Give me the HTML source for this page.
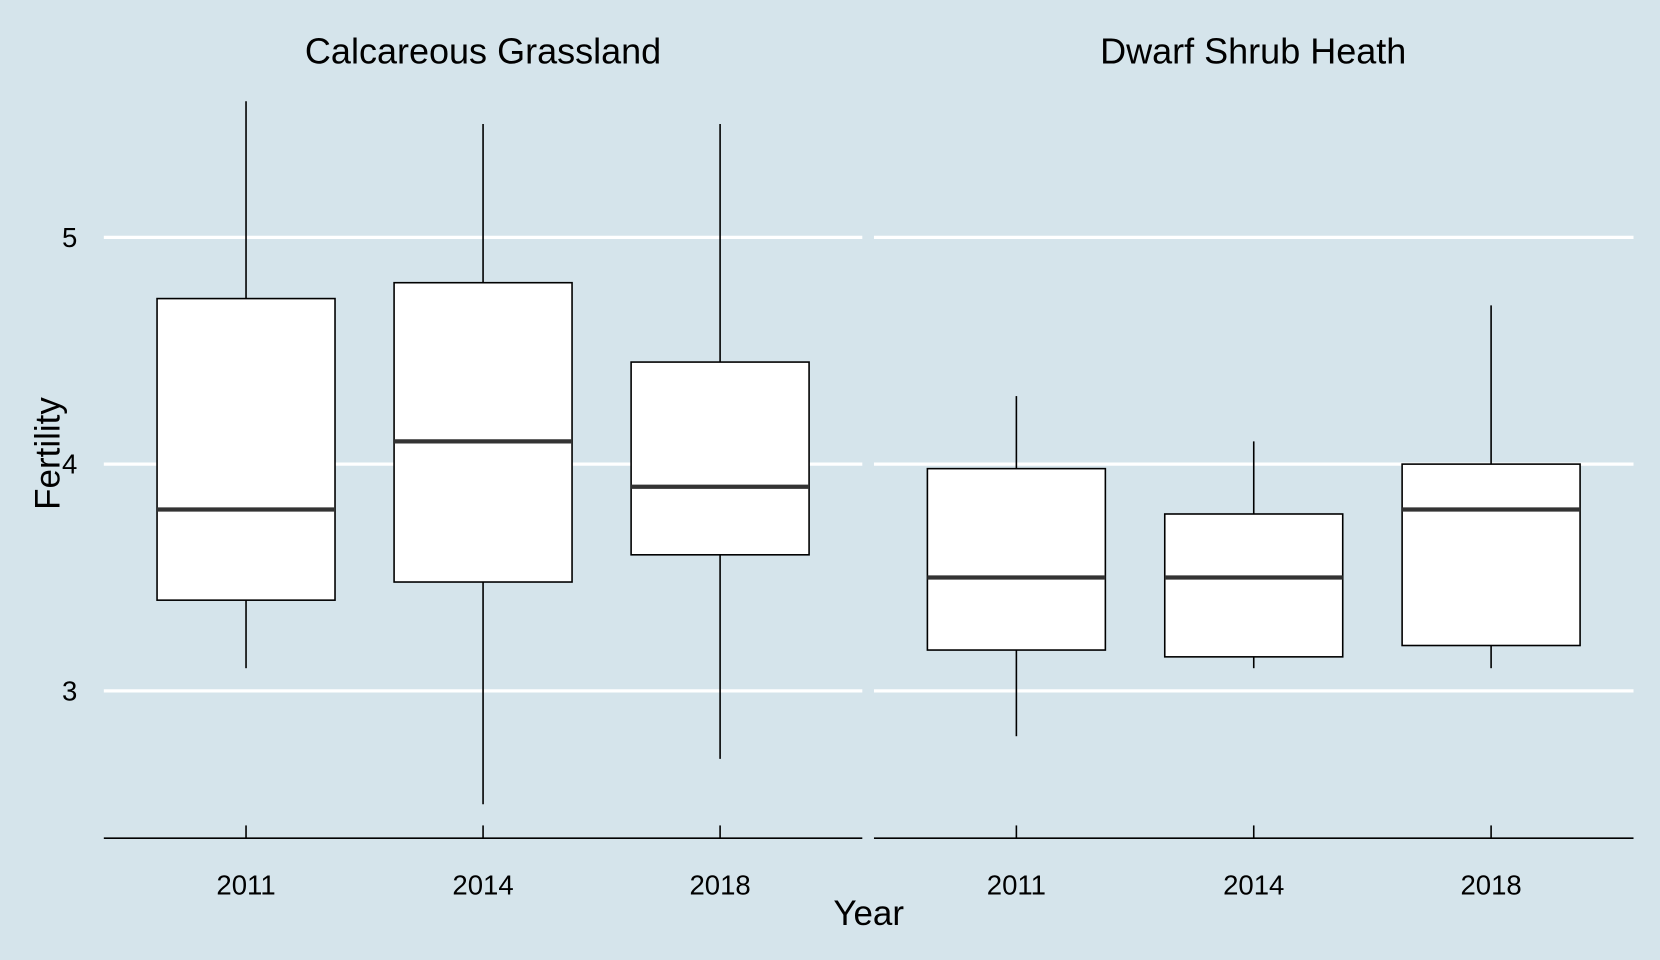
<!DOCTYPE html>
<html><head><meta charset="utf-8"><style>
html,body{margin:0;padding:0;background:#d5e4eb;}
svg{display:block;font-family:"Liberation Sans",Arial,sans-serif;}
</style></head><body>
<svg id="chart" width="1660" height="960" viewBox="0 0 1567 906" preserveAspectRatio="none">
<rect x="0" y="0" width="1567" height="906" fill="#d5e4eb"/>
<g id="plot"></g>
</svg>
<script>
const panels = ["Calcareous Grassland","Dwarf Shrub Heath"];
const years = ["2011","2014","2018"];
const yTicks = [3,4,5];
const lowW = [[3.1,2.5,2.7],[2.8,3.1,3.1]];
const q1 = [[3.4,3.48,3.6],[3.18,3.15,3.2]];
const med = [[3.8,4.1,3.9],[3.5,3.5,3.8]];
const q3 = [[4.73,4.8,4.45],[3.98,3.78,4.0]];
const highW = [[5.6,5.5,5.5],[4.3,4.1,4.7]];

const NS="http://www.w3.org/2000/svg";
const g=document.getElementById('plot');
function mk(t,a,p){const e=document.createElementNS(NS,t);for(const k in a)e.setAttribute(k,a[k]);(p||g).appendChild(e);return e;}
const y=v=>224+(5-v)*214;
const panelX=[[98,814],[825,1542]];
const xPos=(p,i)=>{const [a,b]=panelX[p];const step=(b-a)/3.2;return a+step*(0.6+i);};
const bw=168;
const titleX=[456,1183];

panels.forEach((name,p)=>{
  const [a,b]=panelX[p];
  const pg=mk('g',{});
  
  
  yTicks.forEach(t=>{
    const l=mk('line',{x1:a,x2:b,y1:y(t),y2:y(t),stroke:'#fff','stroke-width':3},pg);
    
    
  });
  const ax=mk('line',{x1:a,x2:b,y1:791,y2:791,stroke:'#000','stroke-width':1.5},pg);
  
  
  const tt=mk('text',{x:titleX[p],y:60,'text-anchor':'middle','font-size':34,fill:'#000'},pg);
  tt.textContent=name;
  
  
  years.forEach((yr,i)=>{
    const cx=xPos(p,i);
    const bg=mk('g',{},pg);
    
    
    mk('line',{x1:cx,x2:cx,y1:y(highW[p][i]),y2:y(q3[p][i]),stroke:'#000','stroke-width':1.5},bg);
    mk('line',{x1:cx,x2:cx,y1:y(q1[p][i]),y2:y(lowW[p][i]),stroke:'#000','stroke-width':1.5},bg);
    mk('rect',{x:cx-bw/2,y:y(q3[p][i]),width:bw,height:y(q1[p][i])-y(q3[p][i]),fill:'#fff',stroke:'#000','stroke-width':1.5},bg);
    mk('line',{x1:cx-bw/2,x2:cx+bw/2,y1:y(med[p][i]),y2:y(med[p][i]),stroke:'#333','stroke-width':4},bg);
    const tk=mk('line',{x1:cx,x2:cx,y1:779,y2:791,stroke:'#000','stroke-width':1.5},pg);
    
    
    const tl=mk('text',{x:cx,y:844,'text-anchor':'middle','font-size':26,fill:'#000'},pg);
    tl.textContent=yr;
    
    
  });
});
yTicks.forEach(t=>{
  const tl=mk('text',{x:73,y:y(t)+9,'text-anchor':'end','font-size':26,fill:'#000'});
  tl.textContent=t;
  
  
});
const xt=mk('text',{x:820,y:873,'text-anchor':'middle','font-size':33,fill:'#000'});
xt.textContent='Year';


const yt=mk('text',{x:0,y:0,'text-anchor':'middle','font-size':33,fill:'#000',transform:'translate(56,428) rotate(-90)'});
yt.textContent='Fertility';


</script>
</body></html>
